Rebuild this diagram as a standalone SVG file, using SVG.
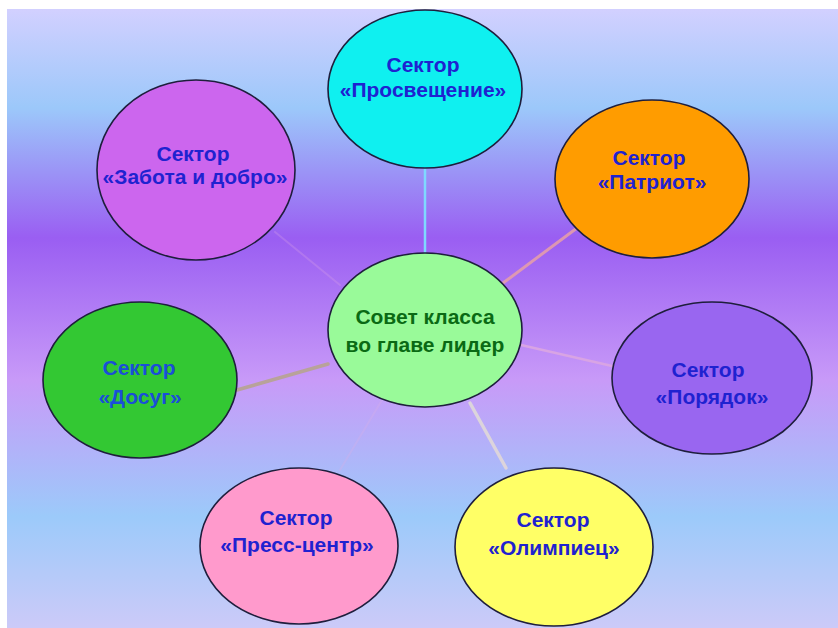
<svg xmlns="http://www.w3.org/2000/svg" width="838" height="628" viewBox="0 0 838 628">
<defs>
<linearGradient id="bg" x1="0" y1="0" x2="0" y2="1">
<stop offset="0" stop-color="#d2d0ff"/>
<stop offset="0.16" stop-color="#9cc8fa"/>
<stop offset="0.37" stop-color="#9a5ef2"/>
<stop offset="0.6" stop-color="#c89af8"/>
<stop offset="0.82" stop-color="#9ccafa"/>
<stop offset="1" stop-color="#cccaf8"/>
</linearGradient>
<style>
.node ellipse{stroke:#1e1e3c;stroke-width:1.6}
.node text{font-family:"Liberation Sans",Arial,sans-serif;font-weight:bold;font-size:21px;text-anchor:middle;fill:#1f22d0}
.edges line{stroke-linecap:round}
</style>
</defs>
<rect width="838" height="628" fill="#ffffff"/>
<rect x="7" y="9" width="831" height="619" fill="url(#bg)"/>
<g id="edges" class="edges">
<line x1="425" y1="168" x2="425" y2="254" stroke="#7fd8ff" stroke-width="2.5"/>
<line x1="503" y1="283" x2="577" y2="228" stroke="#e8a0a8" stroke-width="3" opacity="0.85"/>
<line x1="275" y1="232" x2="340" y2="285" stroke="#d8a0e8" stroke-width="2" opacity="0.3"/>
<line x1="237" y1="390" x2="328" y2="364" stroke="#b8a29a" stroke-width="3.5"/>
<line x1="521" y1="345" x2="612" y2="366" stroke="#d8a4e4" stroke-width="2.5"/>
<line x1="470" y1="403" x2="506" y2="468" stroke="#dcd4dc" stroke-width="3.5"/>
<line x1="382" y1="400" x2="340" y2="470" stroke="#d8b0e8" stroke-width="2" opacity="0.3"/>
</g>
<g id="n-prosveshchenie" class="node">
<ellipse cx="425" cy="89" rx="97" ry="79" fill="#0ff0f0"/>
<text x="423" y="72">Сектор</text>
<text x="423" y="97">«Просвещение»</text>
</g>
<g id="n-zabota" class="node">
<ellipse cx="196" cy="170" rx="99" ry="90" fill="#cc66ee"/>
<text x="193" y="161">Сектор</text>
<text x="195" y="184">«Забота и добро»</text>
</g>
<g id="n-patriot" class="node">
<ellipse cx="652" cy="179" rx="97" ry="79" fill="#ff9c00"/>
<text x="649" y="165">Сектор</text>
<text x="652" y="189">«Патриот»</text>
</g>
<g id="n-center" class="node">
<ellipse cx="425" cy="330" rx="97" ry="77" fill="#99fa99"/>
<text x="425" y="324" style="fill:#0a6a14">Совет класса</text>
<text x="425" y="352" style="fill:#0a6a14">во главе лидер</text>
</g>
<g id="n-dosug" class="node">
<ellipse cx="140" cy="380" rx="97" ry="78" fill="#33c833"/>
<text x="139" y="375" style="fill:#1a4ed8">Сектор</text>
<text x="140" y="404" style="fill:#1a4ed8">«Досуг»</text>
</g>
<g id="n-poryadok" class="node">
<ellipse cx="712" cy="378" rx="100" ry="76" fill="#9966f0"/>
<text x="708" y="377">Сектор</text>
<text x="712" y="404">«Порядок»</text>
</g>
<g id="n-press" class="node">
<ellipse cx="299" cy="546" rx="99" ry="78" fill="#ff9acc"/>
<text x="296" y="525">Сектор</text>
<text x="297" y="552">«Пресс-центр»</text>
</g>
<g id="n-olimpiets" class="node">
<ellipse cx="554" cy="547" rx="99" ry="79" fill="#ffff66"/>
<text x="553" y="527">Сектор</text>
<text x="554" y="555">«Олимпиец»</text>
</g>
</svg>
